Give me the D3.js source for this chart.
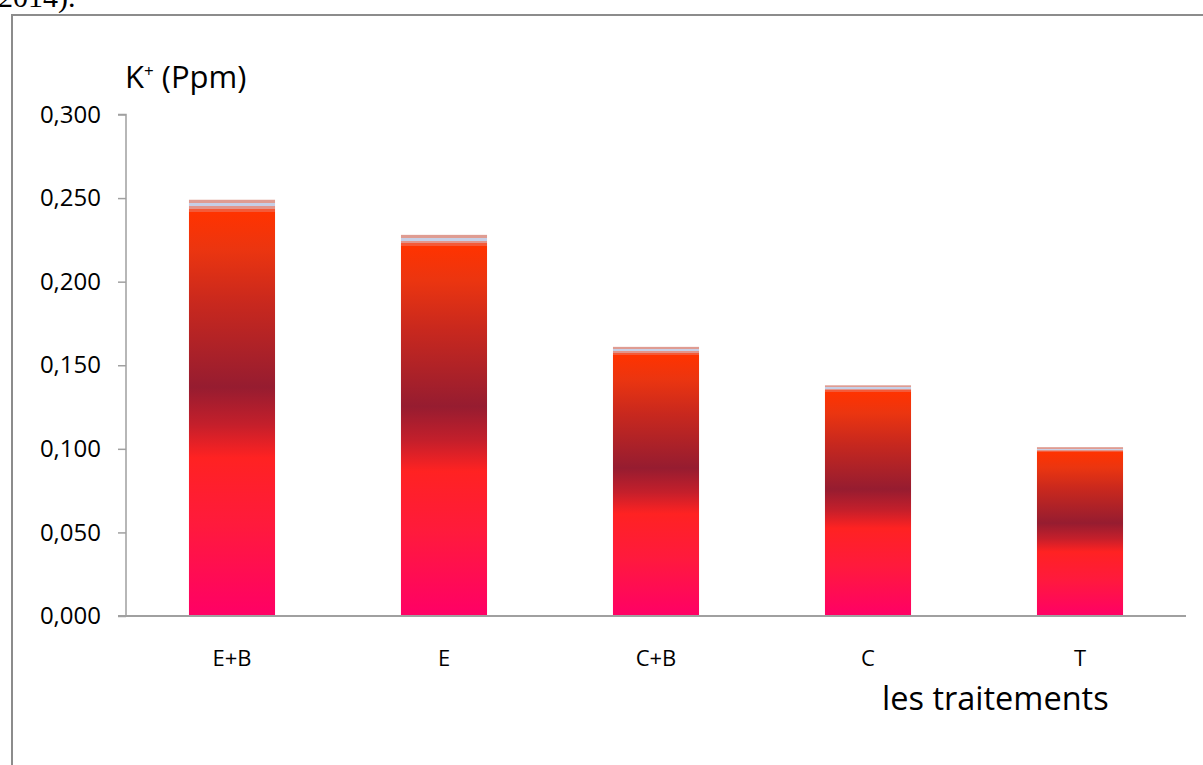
<!DOCTYPE html>
<html lang="fr">
<head>
<meta charset="UTF-8">
<title>K+ (Ppm)</title>
<script src="https://cdn.jsdelivr.net/npm/d3@7"></script>
<style>
  body { margin: 0; background: #fff; }
  text { font-family: "Open Sans", sans-serif; fill: #000; }
</style>
</head>
<body>
<svg id="chart" width="1203" height="765"></svg>
<script>
// chart data
const categories = ["E+B", "E", "C+B", "C", "T"];
const values = [0.249, 0.228, 0.161, 0.138, 0.101];
const yTicks = [0, 0.05, 0.1, 0.15, 0.2, 0.25, 0.3];

const svg = d3.select("#chart");

// bar fill: vertical gradient like the Excel preset
const grad = svg.append("defs").append("linearGradient")
    .attr("id", "fire")
    .attr("x1", 0).attr("y1", 0).attr("x2", 0).attr("y2", 1);
const stops = [
    [0, "#df9c92"], [0.008, "#df9c92"],
    [0.008, "#c6cfe6"], [0.016, "#c6cfe6"],
    [0.016, "#e3958a"], [0.022, "#e3958a"],
    [0.022, "#f45a38"], [0.03, "#f45a38"],
    [0.03, "#ff3300"], [0.12, "#eb3510"], [0.25, "#c8281e"],
    [0.45, "#961c30"], [0.54, "#c41f2b"], [0.62, "#ff2222"],
    [0.78, "#ff1a3c"], [1, "#ff0066"]
];
grad.selectAll("stop").data(stops).join("stop")
    .attr("offset", d => d[0])
    .attr("stop-color", d => d[1]);

// frame around the chart area (cut by the page)
svg.append("path")
    .attr("d", "M12,765 L12,15 L1210,15")
    .attr("fill", "none")
    .attr("stroke", "#8c8c8c")
    .attr("stroke-width", 2);

// piece of the document text above the chart
svg.append("text")
    .attr("x", -2).attr("y", 7)
    .style("font-family", "'Liberation Serif', serif")
    .attr("font-size", 30)
    .text("2014).");

const x = d3.scaleBand()
    .domain(categories)
    .range([126, 1186])
    .paddingInner(0.594)
    .paddingOuter(0.297);

const y = d3.scaleLinear()
    .domain([0, 0.3])
    .range([616, 114.5]);

const fmt = v => d3.format(".3f")(v).replace(".", ",");

// y axis
const yAxis = svg.append("g")
    .attr("transform", "translate(126,0)")
    .call(d3.axisLeft(y).tickValues(yTicks).tickSize(8).tickPadding(17).tickFormat(fmt));
yAxis.select(".domain").attr("d", `M-8,${y(0.3)}H0V${y(0)}`);
yAxis.selectAll("line, path").attr("stroke", "#a0a0a0").attr("stroke-width", 1.5);
yAxis.selectAll("text")
    .attr("font-size", 24)
    .style("font-family", "'Open Sans', sans-serif");

// bars
svg.append("g").selectAll("rect")
    .data(values)
    .join("rect")
    .attr("x", (d, i) => x(categories[i]))
    .attr("y", d => y(d))
    .attr("width", x.bandwidth())
    .attr("height", d => y(0) - y(d))
    .attr("fill", "url(#fire)");

// x axis
const xAxis = svg.append("g")
    .attr("transform", `translate(0,${y(0)})`)
    .call(d3.axisBottom(x).tickSize(0).tickPadding(34));
xAxis.select(".domain")
    .attr("d", "M118,0H1186")
    .attr("stroke", "#a0a0a0")
    .attr("stroke-width", 2);
xAxis.selectAll("text")
    .attr("font-size", 22)
    .style("font-family", "'Open Sans', sans-serif");

// axis titles
const yTitle = svg.append("text")
    .attr("x", 125).attr("y", 88)
    .attr("font-size", 31);
yTitle.append("tspan").text("K");
yTitle.append("tspan").attr("font-size", 17).attr("dy", -11).text("+");
yTitle.append("tspan").attr("dy", 11).text(" (Ppm)");

svg.append("text")
    .attr("x", 882).attr("y", 710)
    .attr("font-size", 32.5)
    .text("les traitements");
</script>
</body>
</html>
